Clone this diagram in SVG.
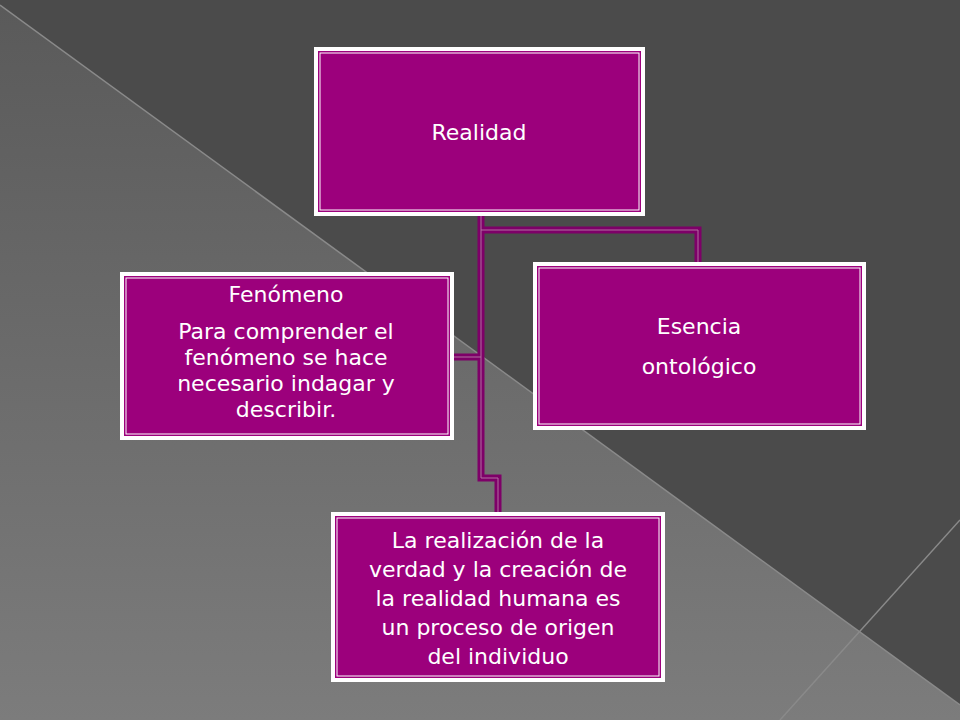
<svg xmlns="http://www.w3.org/2000/svg" width="960" height="720" viewBox="0 0 960 720">
<defs>
<linearGradient id="bg2" x1="0" y1="0" x2="0" y2="1"><stop offset="0" stop-color="#5a5a5a"/><stop offset="1" stop-color="#7c7c7c"/></linearGradient>
<style>
.box{fill:#9c007c;stroke:#ffffff;stroke-width:4}
.inner{fill:none;stroke:#ffffff;stroke-width:1}
.t{font-family:"DejaVu Sans",sans-serif;font-size:22px;fill:#ffffff;text-anchor:middle}
.c{fill:none;stroke:#7e0068;stroke-width:7}
.ci{fill:none;stroke:#b070a0;stroke-width:1}
</style>
</defs>
<rect width="960" height="720" fill="#4b4b4b"/>
<polygon points="0,5 960,705 960,720 0,720" fill="url(#bg2)"/>
<line x1="0" y1="5" x2="960" y2="705" stroke="#8a8a8a" stroke-width="1.5"/>
<line x1="960" y1="520" x2="780" y2="720" stroke="#8a8a8a" stroke-width="1.5"/>
<g id="connectors">
<path class="c" d="M481,216 V478 H498 V514"/>
<path class="c" d="M481,230 H698 V264"/>
<path class="c" d="M453,357 H481"/>
<path class="ci" d="M481,216 V478 H498 V514"/>
<path class="ci" d="M481,230 H698 V264"/>
<path class="ci" d="M453,357 H481"/>
</g>
<g id="realidad">
<rect class="box" x="316" y="49" width="327" height="165"/>
<rect class="inner" x="320" y="53" width="319" height="157"/>
<text class="t" x="479" y="140">Realidad</text>
</g>
<g id="fenomeno">
<rect class="box" x="122" y="274" width="330" height="164"/>
<rect class="inner" x="126" y="278" width="322" height="156"/>
<text class="t" x="286" y="302">Fenómeno</text>
<text class="t" x="286" y="339">Para comprender el</text>
<text class="t" x="286" y="365">fenómeno se hace</text>
<text class="t" x="286" y="391">necesario indagar y</text>
<text class="t" x="286" y="417">describir.</text>
</g>
<g id="esencia">
<rect class="box" x="535" y="264" width="329" height="164"/>
<rect class="inner" x="539" y="268" width="321" height="156"/>
<text class="t" x="699" y="334">Esencia</text>
<text class="t" x="699" y="374">ontológico</text>
</g>
<g id="realizacion">
<rect class="box" x="333" y="514" width="330" height="166"/>
<rect class="inner" x="337" y="518" width="322" height="158"/>
<text class="t" x="498" y="548">La realización de la</text>
<text class="t" x="498" y="577">verdad y la creación de</text>
<text class="t" x="498" y="606">la realidad humana es</text>
<text class="t" x="498" y="635">un proceso de origen</text>
<text class="t" x="498" y="664">del individuo</text>
</g>
</svg>
